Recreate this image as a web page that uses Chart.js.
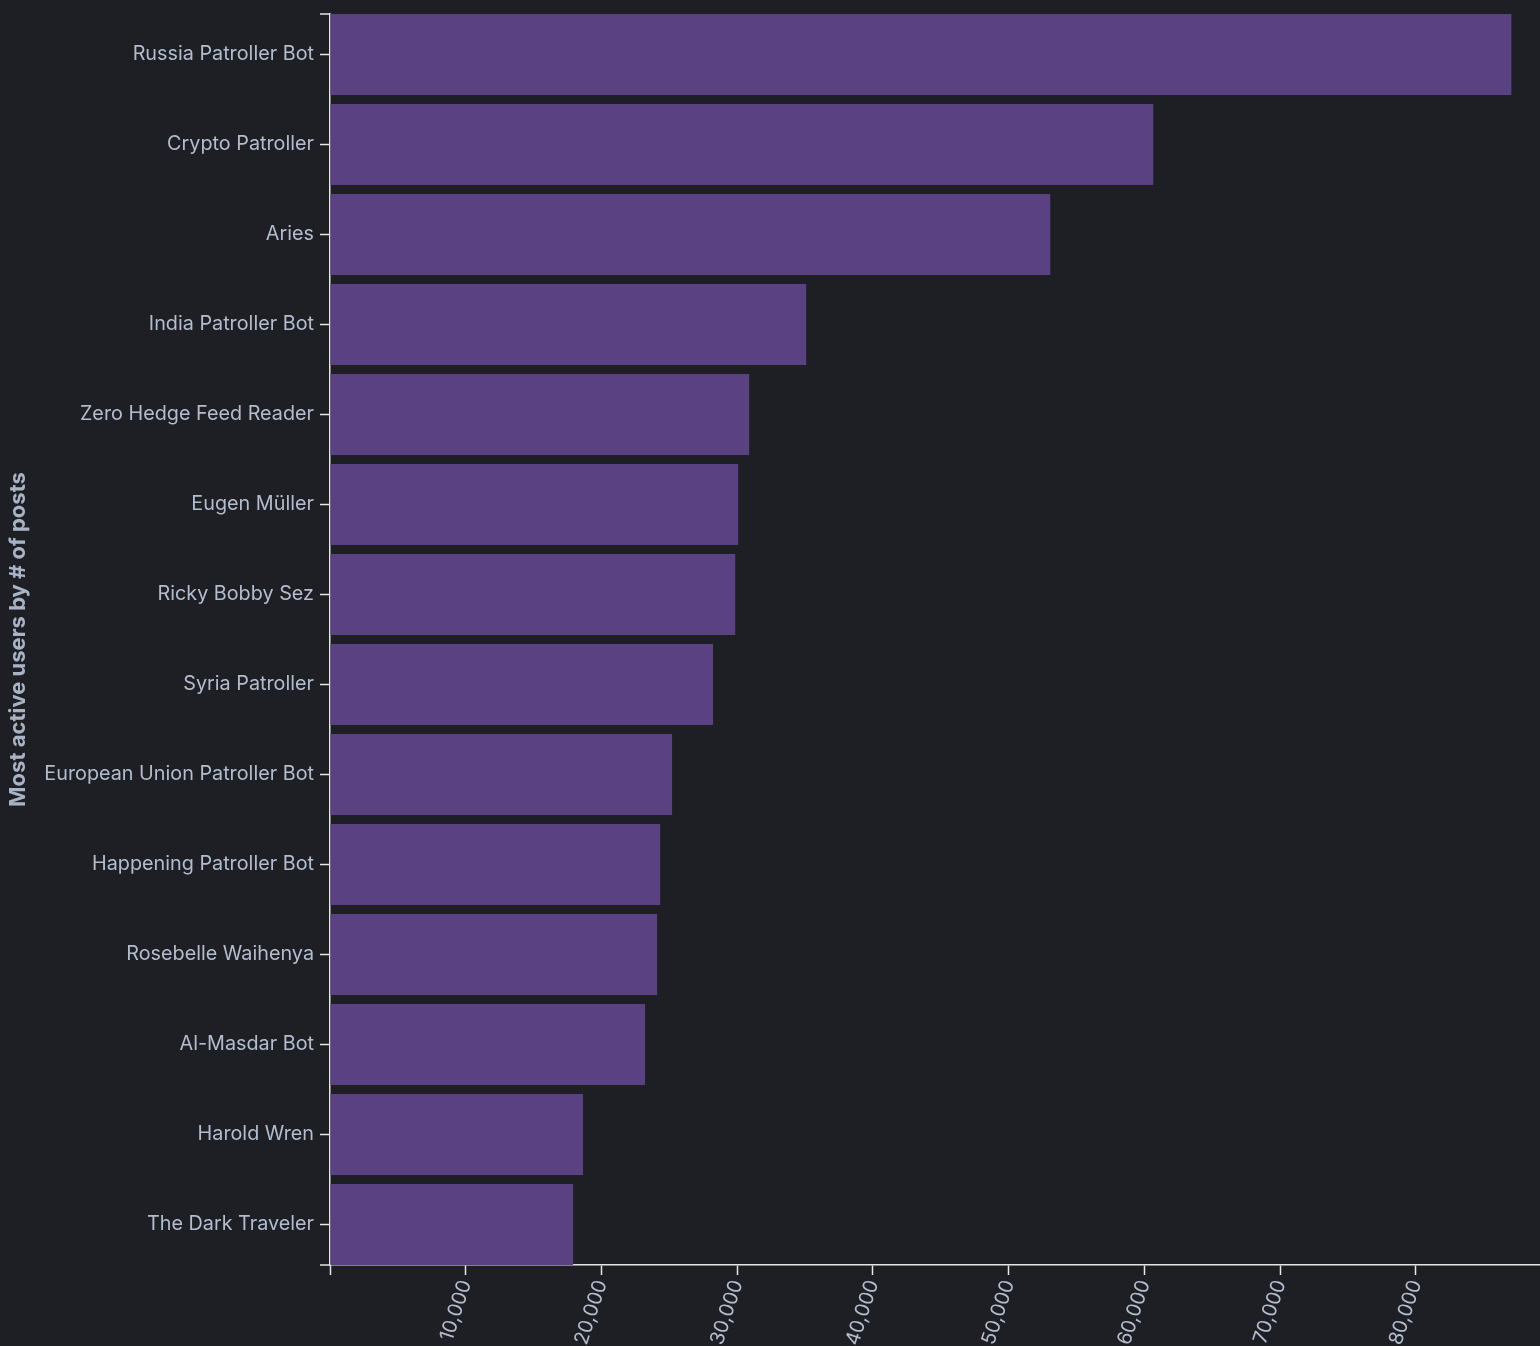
<!DOCTYPE html>
<html>
<head>
<meta charset="utf-8">
<script src="https://cdn.jsdelivr.net/npm/chart.js@4"></script>
<style>
html,body{margin:0;padding:0;background:#1e1f25;}
#wrap{width:1540px;height:1346px;}
</style>
</head>
<body>
<div id="wrap"><canvas id="c" width="1540" height="1346"></canvas></div>
<script>
const categories = [
  "Russia Patroller Bot","Crypto Patroller","Aries","India Patroller Bot",
  "Zero Hedge Feed Reader","Eugen Müller","Ricky Bobby Sez","Syria Patroller",
  "European Union Patroller Bot","Happening Patroller Bot","Rosebelle Waihenya",
  "Al-Masdar Bot","Harold Wren","The Dark Traveler"
];
const postCounts = [87030, 60650, 53060, 35080, 30880, 30070, 29850, 28220, 25200, 24320, 24100, 23210, 18640, 17910];
const xTickValues = [0, 10000, 20000, 30000, 40000, 50000, 60000, 70000, 80000];
const axisTitle = "Most active users by # of posts";

const axisColor = '#e6e6e6';
const labelColor = '#b3bdcd';

// band-scale style: bars fill the axis edge to edge (outer padding 0, inner padding 0.1)
const bandPad = 0.45;

const outerTicks = {
  id: 'outerTicks',
  afterDraw(chart) {
    const {ctx, chartArea} = chart;
    ctx.save();
    ctx.strokeStyle = axisColor;
    ctx.lineWidth = 1.5;
    ctx.beginPath();
    ctx.moveTo(chartArea.left - 10, chartArea.top);
    ctx.lineTo(chartArea.left, chartArea.top);
    ctx.moveTo(chartArea.left - 10, chartArea.bottom);
    ctx.lineTo(chartArea.left, chartArea.bottom);
    ctx.stroke();
    ctx.restore();
  }
};

new Chart(document.getElementById('c'), {
  type: 'bar',
  data: {
    datasets: [{
      data: postCounts.map((v, i) => ({ x: v, y: i })),
      backgroundColor: '#5a4282',
      borderWidth: 0,
      barPercentage: 0.9,
      categoryPercentage: 1.0
    }]
  },
  options: {
    indexAxis: 'y',
    responsive: false,
    animation: false,
    layout: { padding: { top: 14, right: 0, bottom: 0, left: 0 } },
    plugins: { legend: { display: false }, tooltip: { enabled: false } },
    scales: {
      x: {
        type: 'linear',
        min: 0,
        max: 89140,
        afterBuildTicks(scale) {
          scale.ticks = xTickValues.map(v => ({ value: v }));
        },
        afterFit(scale) { scale.height = 81; scale.paddingLeft = 0; scale.paddingRight = 0; },
        grid: { drawOnChartArea: false, drawTicks: true, tickLength: 10, tickColor: axisColor, tickWidth: 1.5 },
        border: { display: true, color: axisColor, width: 1.5 },
        ticks: {
          color: labelColor,
          font: { family: 'Inter', size: 19.8 },
          minRotation: 72,
          maxRotation: 72,
          padding: 2,
          callback: (v) => v === 0 ? '' : v.toLocaleString('en-US')
        }
      },
      y: {
        type: 'linear',
        reverse: true,
        offset: false,
        min: -bandPad,
        max: categories.length - 1 + bandPad,
        afterBuildTicks(scale) {
          scale.ticks = categories.map((c, i) => ({ value: i }));
        },
        afterFit(scale) { scale.width = 330; scale.paddingTop = 0; scale.paddingBottom = 0; },
        grid: { offset: false, drawOnChartArea: false, drawTicks: true, tickLength: 10, tickColor: axisColor, tickWidth: 1.5 },
        border: { display: true, color: axisColor, width: 1.5 },
        ticks: {
          color: labelColor,
          font: { family: 'Inter', size: 19.8 },
          padding: 6,
          autoSkip: false,
          callback: (v) => categories[v] !== undefined ? categories[v] : ''
        },
        title: {
          display: true,
          text: axisTitle,
          color: '#a9b3c6',
          font: { family: 'Inter', size: 22, weight: 'bold' },
          padding: { top: 5, bottom: 0 }
        }
      }
    }
  },
  plugins: [outerTicks]
});
</script>
</body>
</html>
